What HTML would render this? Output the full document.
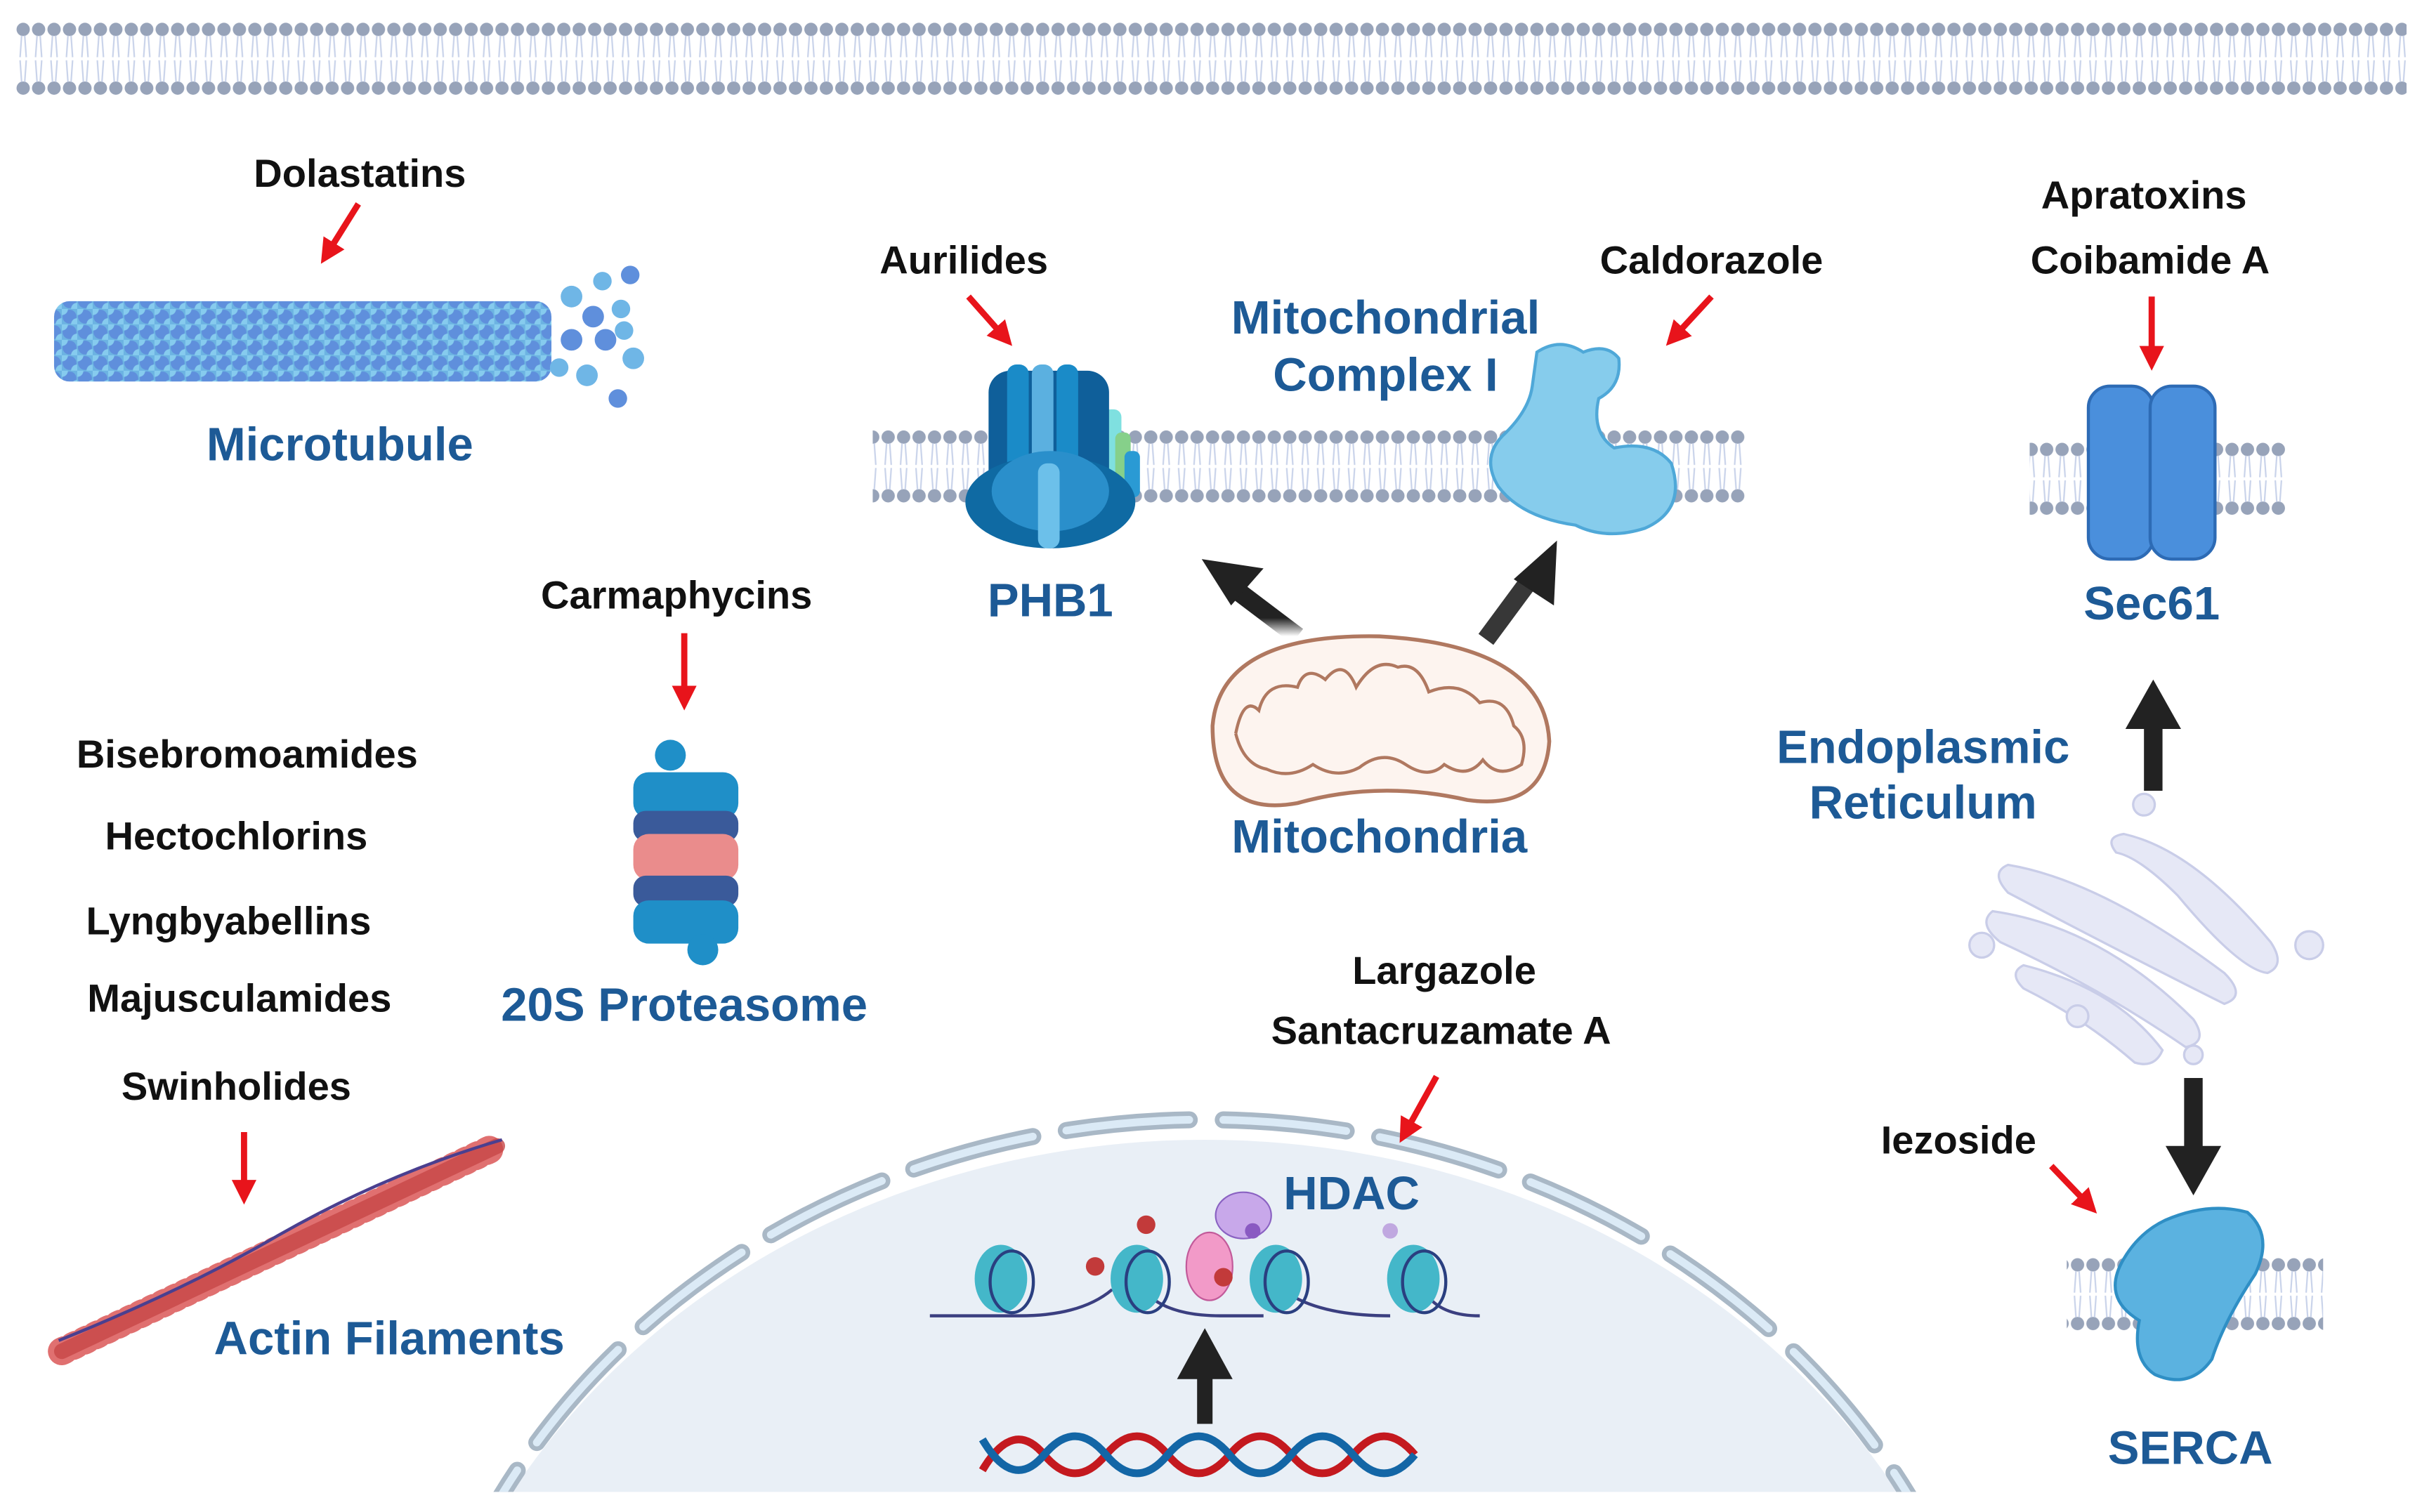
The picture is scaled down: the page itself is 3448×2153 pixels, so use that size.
<!DOCTYPE html>
<html><head><meta charset="utf-8"><style>
html,body{margin:0;padding:0;background:#fff;width:3448px;height:2153px;overflow:hidden}
svg{display:block}
text{font-family:"Liberation Sans",Arial,sans-serif;font-weight:bold;text-anchor:middle}
.k{fill:#111;font-size:25.5px}
.b{fill:#1d5a96;font-size:30.5px}
</style></head><body>
<svg width="3448" height="2153" viewBox="0 0 1568 979" xmlns="http://www.w3.org/2000/svg">
<defs>
<pattern id="mem" x="0" y="0" width="10" height="48" patternUnits="userSpaceOnUse">
<circle cx="5" cy="5" r="4.3" fill="#97a3b9"/>
<circle cx="5" cy="43" r="4.3" fill="#97a3b9"/>
<path d="M4 9 L3 23 M6 9 L7 23 M3 25 L4 39 M7 25 L6 39" stroke="#c9d3ea" stroke-width="1"/>
</pattern>
<pattern id="mt" width="10" height="10" patternUnits="userSpaceOnUse">
<rect width="10" height="10" fill="#6cb3e2"/>
<circle cx="5" cy="5" r="4.5" fill="#5f8fdc"/><circle cx="0" cy="0" r="4" fill="#86cbee"/><circle cx="10" cy="10" r="4" fill="#86cbee"/>
</pattern>
<linearGradient id="fade" x1="0" y1="1" x2="0" y2="0"><stop offset="0" stop-color="#222" stop-opacity="0"/><stop offset="0.35" stop-color="#222"/></linearGradient>
<marker id="ra" markerWidth="4" markerHeight="4" refX="2" refY="2" orient="auto"><path d="M0 0 L4 2 L0 4 Z" fill="#e8141b"/></marker>
<clipPath id="cl"><rect x="0" y="0" width="1568" height="966"/></clipPath>
</defs>

<rect x="10" y="0" width="1548" height="48" fill="url(#mem)" transform="translate(0,14)"/>

<text class="k" x="233" y="121">Dolastatins</text>
<line x1="232" y1="132" x2="212" y2="164" stroke="#e8141b" stroke-width="4" marker-end="url(#ra)"/>
<rect x="35" y="195" width="322" height="52" rx="10" fill="url(#mt)"/>
<g fill="#6fb6e6">
<circle cx="370" cy="192" r="7"/><circle cx="390" cy="182" r="6"/><circle cx="408" cy="178" r="6" fill="#5f8fdc"/><circle cx="384" cy="205" r="7" fill="#5f8fdc"/><circle cx="402" cy="200" r="6"/><circle cx="370" cy="220" r="7" fill="#5f8fdc"/><circle cx="392" cy="220" r="7" fill="#5f8fdc"/><circle cx="410" cy="232" r="7"/><circle cx="362" cy="238" r="6"/><circle cx="380" cy="243" r="7"/><circle cx="400" cy="258" r="6" fill="#5f8fdc"/><circle cx="404" cy="214" r="6"/>
</g>
<text class="b" x="220" y="298">Microtubule</text>

<rect x="565" y="0" width="565" height="48" fill="url(#mem)" transform="translate(0,278)"/>
<text class="k" x="624" y="177">Aurilides</text>
<line x1="627" y1="192" x2="650" y2="218" stroke="#e8141b" stroke-width="4" marker-end="url(#ra)"/>
<g>
<rect x="714" y="265" width="12" height="60" rx="5" fill="#7fe0e0"/>
<rect x="722" y="280" width="10" height="40" rx="4" fill="#86d08a"/>
<rect x="728" y="292" width="10" height="30" rx="4" fill="#2a9ad4"/>
<rect x="640" y="240" width="78" height="90" rx="14" fill="#0f5f9a"/>
<rect x="652" y="236" width="14" height="100" rx="6" fill="#1a8bc8"/>
<rect x="668" y="236" width="14" height="105" rx="6" fill="#5bb0e0"/>
<rect x="684" y="236" width="14" height="100" rx="6" fill="#1a8bc8"/>
<ellipse cx="680" cy="325" rx="55" ry="30" fill="#0f6aa3"/>
<ellipse cx="680" cy="318" rx="38" ry="26" fill="#2a8fcb"/>
<rect x="672" y="300" width="14" height="55" rx="6" fill="#6cc0ea"/>
</g>
<text class="b" x="680" y="399">PHB1</text>
<text class="b" x="897" y="216">Mitochondrial</text>
<text class="b" x="897" y="253">Complex I</text>
<text class="k" x="1108" y="177">Caldorazole</text>
<line x1="1108" y1="192" x2="1084" y2="218" stroke="#e8141b" stroke-width="4" marker-end="url(#ra)"/>
<path d="M995 228 Q1010 218 1025 228 Q1040 222 1048 232 Q1050 250 1035 258 Q1030 280 1045 290 Q1070 285 1082 300 Q1092 330 1065 342 Q1040 350 1020 340 Q985 335 970 315 Q958 295 975 280 Q990 265 992 250 Z" fill="#86ccec" stroke="#4fa8d8" stroke-width="2"/>
<g>
<line x1="840" y1="412" x2="795" y2="378" stroke="url(#fade)" stroke-width="12"/>
<path d="M778 362 L818 368 L797 392 Z" fill="#222"/>
<line x1="962" y1="414" x2="993" y2="372" stroke="#222" stroke-width="12" opacity="0.9"/>
<path d="M1008 350 L1006 392 L980 375 Z" fill="#222"/>
</g>
<path d="M785 470 Q790 410 893 412 Q1000 418 1003 480 Q1000 525 950 518 Q893 505 840 520 Q785 530 785 470 Z" fill="#fdf4ef" stroke="#b07860" stroke-width="2.5"/>
<path d="M800 475 Q805 450 815 460 Q820 440 840 445 Q845 430 858 440 Q870 425 878 445 Q890 425 905 432 Q918 428 925 448 Q945 440 958 455 Q975 450 980 470 Q990 478 985 495 Q970 505 960 492 Q950 505 935 495 Q925 505 910 495 Q895 485 880 497 Q865 505 850 495 Q835 505 820 498 Q805 495 800 475" fill="none" stroke="#b07860" stroke-width="2"/>
<text class="b" x="893" y="552">Mitochondria</text>

<text class="k" x="1388" y="135">Apratoxins</text>
<text class="k" x="1392" y="177">Coibamide A</text>
<line x1="1393" y1="192" x2="1393" y2="232" stroke="#e8141b" stroke-width="4" marker-end="url(#ra)"/>
<rect x="1314" y="0" width="166" height="48" fill="url(#mem)" transform="translate(0,286)"/>
<rect x="1352" y="250" width="42" height="112" rx="14" fill="#4a8fdc" stroke="#2d6bb5" stroke-width="2"/>
<rect x="1392" y="250" width="42" height="112" rx="14" fill="#4a8fdc" stroke="#2d6bb5" stroke-width="2"/>
<text class="b" x="1393" y="401">Sec61</text>
<text class="b" x="1245" y="494">Endoplasmic</text>
<text class="b" x="1245" y="530">Reticulum</text>
<line x1="1394" y1="512" x2="1394" y2="470" stroke="#222" stroke-width="12"/>
<path d="M1376 472 L1394 440 L1412 472 Z" fill="#222"/>
<g fill="#e6e8f6" stroke="#c9cde8" stroke-width="1.5">
<circle cx="1388" cy="521" r="7"/>
<path d="M1375 540 Q1420 550 1470 610 Q1480 625 1468 630 Q1450 628 1410 580 Q1385 555 1370 552 Q1362 542 1375 540Z"/>
<path d="M1300 560 Q1360 570 1440 630 Q1455 645 1440 650 Q1380 620 1300 578 Q1288 565 1300 560Z"/>
<path d="M1290 590 Q1360 600 1420 660 Q1430 675 1415 678 Q1360 640 1295 610 Q1280 598 1290 590Z"/>
<path d="M1310 625 Q1370 640 1400 680 Q1395 692 1382 688 Q1350 660 1310 640 Q1300 630 1310 625Z"/>
<circle cx="1283" cy="612" r="8"/><circle cx="1495" cy="612" r="9"/><circle cx="1345" cy="658" r="7"/><circle cx="1420" cy="683" r="6"/>
</g>
<line x1="1420" y1="698" x2="1420" y2="745" stroke="#222" stroke-width="12"/>
<path d="M1402 742 L1420 774 L1438 742 Z" fill="#222"/>
<text class="k" x="1268" y="747">Iezoside</text>
<line x1="1328" y1="755" x2="1352" y2="780" stroke="#e8141b" stroke-width="4" marker-end="url(#ra)"/>
<rect x="1338" y="0" width="166" height="48" fill="url(#mem)" transform="translate(0,814)"/>
<path d="M1402 790 Q1430 778 1455 785 Q1472 800 1460 825 Q1440 855 1432 880 Q1418 900 1395 890 Q1380 880 1385 855 Q1360 840 1375 815 Q1385 798 1402 790Z" fill="#5bb2e0" stroke="#2f8fc5" stroke-width="2"/>
<text class="b" x="1418" y="948">SERCA</text>

<text class="k" x="438" y="394">Carmaphycins</text>
<line x1="443" y1="410" x2="443" y2="452" stroke="#e8141b" stroke-width="4" marker-end="url(#ra)"/>
<g>
<circle cx="434" cy="489" r="10" fill="#1f8fc8"/>
<rect x="410" y="500" width="68" height="30" rx="10" fill="#1f8fc8"/>
<rect x="410" y="525" width="68" height="20" rx="8" fill="#3a5a9a"/>
<rect x="410" y="540" width="68" height="30" rx="10" fill="#ea8c8c"/>
<rect x="410" y="567" width="68" height="20" rx="8" fill="#3a5a9a"/>
<rect x="410" y="583" width="68" height="28" rx="10" fill="#1f8fc8"/>
<circle cx="455" cy="615" r="10" fill="#1f8fc8"/>
</g>
<text class="b" x="443" y="661">20S Proteasome</text>

<text class="k" x="160" y="497">Bisebromoamides</text>
<text class="k" x="153" y="550">Hectochlorins</text>
<text class="k" x="148" y="605">Lyngbyabellins</text>
<text class="k" x="155" y="655">Majusculamides</text>
<text class="k" x="153" y="712">Swinholides</text>
<line x1="158" y1="733" x2="158" y2="772" stroke="#e8141b" stroke-width="4" marker-end="url(#ra)"/>
<line x1="40" y1="875" x2="322" y2="742" stroke="#e07070" stroke-width="18" stroke-linecap="round" stroke-dasharray="2 6"/>
<line x1="40" y1="875" x2="322" y2="742" stroke="#c84848" stroke-width="10" stroke-linecap="round" opacity="0.8"/>
<path d="M38 868 Q120 835 180 800 Q250 760 325 738" fill="none" stroke="#4a3f8f" stroke-width="2"/>
<text class="b" x="252" y="877">Actin Filaments</text>

<g clip-path="url(#cl)">
<ellipse cx="780" cy="1200" rx="520" ry="462" fill="#e9eff6"/>
<ellipse cx="780" cy="1195" rx="520" ry="470" fill="none" stroke="#a9b8c6" stroke-width="11" stroke-dasharray="80 22" stroke-linecap="round"/>
<ellipse cx="780" cy="1195" rx="520" ry="470" fill="none" stroke="#dbeaf6" stroke-width="5" stroke-dasharray="80 22" stroke-linecap="round"/>
</g>
<text class="k" x="935" y="637">Largazole</text>
<text class="k" x="933" y="676">Santacruzamate A</text>
<line x1="930" y1="697" x2="910" y2="733" stroke="#e8141b" stroke-width="4" marker-end="url(#ra)"/>
<text class="b" x="875" y="783">HDAC</text>
<path d="M602 852 L660 852 Q700 852 720 835 M745 840 Q760 852 790 852 L818 852 M838 840 Q860 852 900 852 M925 840 Q935 852 958 852" fill="none" stroke="#3b3f80" stroke-width="2"/>
<g>
<ellipse cx="648" cy="828" rx="17" ry="22" fill="#44b7c9"/><ellipse cx="655" cy="830" rx="14" ry="20" fill="none" stroke="#2a3f80" stroke-width="2"/>
<ellipse cx="736" cy="828" rx="17" ry="22" fill="#44b7c9"/><ellipse cx="743" cy="830" rx="14" ry="20" fill="none" stroke="#2a3f80" stroke-width="2"/>
<ellipse cx="826" cy="828" rx="17" ry="22" fill="#44b7c9"/><ellipse cx="833" cy="830" rx="14" ry="20" fill="none" stroke="#2a3f80" stroke-width="2"/>
<ellipse cx="915" cy="828" rx="17" ry="22" fill="#44b7c9"/><ellipse cx="922" cy="830" rx="14" ry="20" fill="none" stroke="#2a3f80" stroke-width="2"/>
<ellipse cx="783" cy="820" rx="15" ry="22" fill="#f29ac8" stroke="#c25a9a"/>
<ellipse cx="805" cy="787" rx="18" ry="15" fill="#c8a8ea" stroke="#8a62c2"/>
<circle cx="742" cy="793" r="6" fill="#c23a3a"/><circle cx="709" cy="820" r="6" fill="#c23a3a"/><circle cx="792" cy="827" r="6" fill="#c23a3a"/>
<circle cx="811" cy="797" r="5" fill="#8a5ac2"/><circle cx="900" cy="797" r="5" fill="#c0a8e0"/>
</g>
<line x1="780" y1="922" x2="780" y2="890" stroke="#222" stroke-width="10"/>
<path d="M762 893 L780 860 L798 893 Z" fill="#222"/>
<path d="M636 952 Q656 918 676 942 T716 942 T756 942 T796 942 T836 942 T876 942 T916 942" fill="none" stroke="#c4191f" stroke-width="5"/>
<path d="M636 932 Q656 966 676 942 T716 942 T756 942 T796 942 T836 942 T876 942 T916 942" fill="none" stroke="#1366a6" stroke-width="5"/>
</svg>
</body></html>
